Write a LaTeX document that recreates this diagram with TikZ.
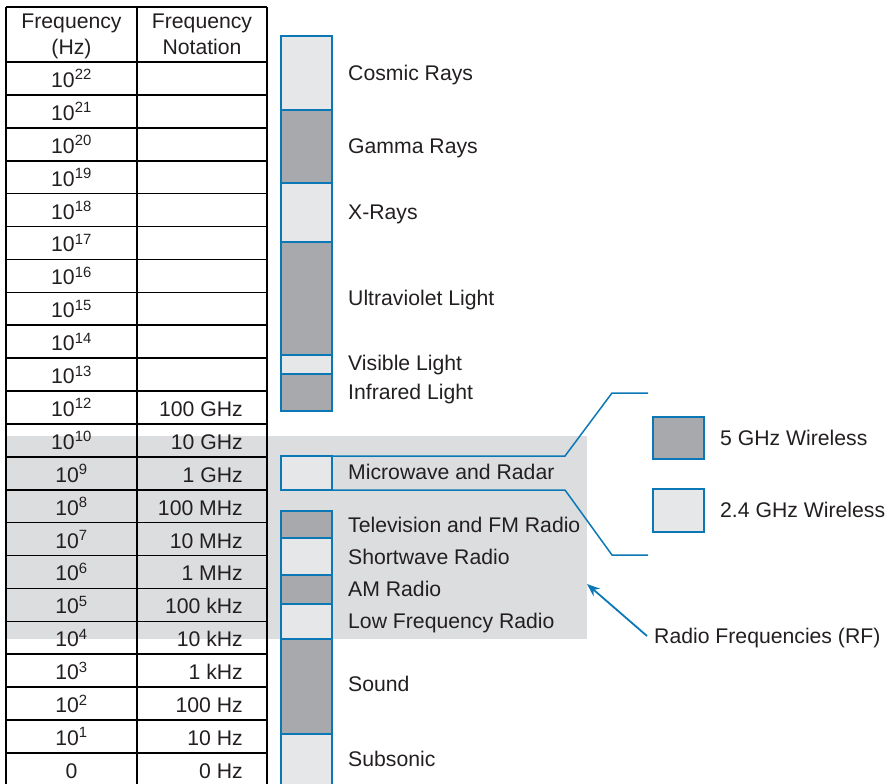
\documentclass[tikz,border=0pt]{standalone}
\usepackage{fontspec}
\setmainfont{Liberation Sans}
\usetikzlibrary{arrows.meta}
\definecolor{darkg}{HTML}{A7A9AC}
\definecolor{lightg}{HTML}{E6E7E8}
\definecolor{bandg}{HTML}{DCDDDF}
\definecolor{bl}{HTML}{0B78B5}
\definecolor{ink}{HTML}{231F20}
\begin{document}
\begin{tikzpicture}[x=1pt,y=-1pt,
  txt/.style={inner sep=0pt, font=\fontsize{21.2}{25}\selectfont, text=ink},
  lab/.style={txt, anchor=base west},
  num/.style={txt, anchor=base},
  note/.style={txt, anchor=base east},
  seg/.style={draw=bl, line width=2.2pt, minimum width=51pt, inner sep=0pt, outer sep=0pt, anchor=north west},
  tline/.style={draw=black, line width=1.6pt},
  blline/.style={draw=bl, line width=1.5pt}]
\useasboundingbox (0,0) rectangle (886,784);
% RF band
\fill[bandg] (6,436) rectangle (587,639);
\coordinate (bandE) at (587,584);
% table lines
\draw[tline] (6,7) -- (6,790);
\draw[tline] (137,7) -- (137,790);
\draw[tline] (267,7) -- (267,790);
\draw[tline] (6,7) -- (267,7);
\foreach \i in {0,...,21} {
  \draw[tline] (6,62+32.9*\i) -- (267,62+32.9*\i);
}
% header
\node[num] (h1a) at (71.5,28.3) {Frequency};
\node[num] (h1b) at (71.5,54.3) {(Hz)};
\node[num] (h2a) at (202,28.3) {Frequency};
\node[num] (h2b) at (202,54.3) {Notation};
% frequency column
\foreach \e [count=\k from 0] in {22,21,20,19,18,17,16,15,14,13,12,10,9,8,7,6,5,4,3,2,1} {
  \node[num] (f\k) at (71.5,62+32.9*\k+16.45+9) {10\textsuperscript{\e}};
}
\node[num] (f21) at (71.5,62+32.9*21+16.45+9) {0};
% notation column
\foreach \t [count=\k from 10] in {100 GHz,10 GHz,1 GHz,100 MHz,10 MHz,1 MHz,100 kHz,10 kHz,1 kHz,100 Hz,10 Hz,0 Hz} {
  \node[note] (n\k) at (243,62+32.9*\k+16.45+9) {\t};
}
% spectrum bar
\node[seg, fill=lightg, minimum height=74pt] (cosmic) at (281,36) {};
\node[seg, fill=darkg, minimum height=73pt] (gamma) at (281,110) {};
\node[seg, fill=lightg, minimum height=59pt] (xray) at (281,183) {};
\node[seg, fill=darkg, minimum height=113pt] (uv) at (281,242) {};
\node[seg, fill=lightg, minimum height=19pt] (vis) at (281,355) {};
\node[seg, fill=darkg, minimum height=37pt] (ir) at (281,374) {};
\node[seg, fill=lightg, minimum height=34pt] (mw) at (281,456) {};
\node[seg, fill=darkg, minimum height=27pt] (tv) at (281,511) {};
\node[seg, fill=lightg, minimum height=37pt] (sw) at (281,538) {};
\node[seg, fill=darkg, minimum height=29pt] (am) at (281,575) {};
\node[seg, fill=lightg, minimum height=35pt] (lf) at (281,604) {};
\node[seg, fill=darkg, minimum height=95pt] (sound) at (281,639) {};
\node[seg, fill=lightg, minimum height=60pt] (sub) at (281,734) {};
% labels
\node[lab] (lcosmic) at (348,80.5) {Cosmic Rays};
\node[lab] (lgamma) at (348,153) {Gamma Rays};
\node[lab] (lxray) at (348,219) {X-Rays};
\node[lab] (luv) at (348,305) {Ultraviolet Light};
\node[lab] (lvis) at (348,370.7) {Visible Light};
\node[lab] (lir) at (348,399) {Infrared Light};
\node[lab] (lmw) at (348,479.5) {Microwave and Radar};
\node[lab] (ltv) at (348,532) {Television and FM Radio};
\node[lab] (lsw) at (348,564) {Shortwave Radio};
\node[lab] (lam) at (348,596) {AM Radio};
\node[lab] (llf) at (348,628) {Low Frequency Radio};
\node[lab] (lsound) at (348,691.7) {Sound};
\node[lab] (lsub) at (348,766.5) {Subsonic};
% microwave zoom lines
\coordinate (t1) at (565,456);
\coordinate (t2) at (612,393);
\coordinate (t3) at (648,393);
\coordinate (b1) at (565,490);
\coordinate (b2) at (612,555);
\coordinate (b3) at (648,555);
\draw[blline] (mw.north east) -- (t1) -- (t2) -- (t3);
\draw[blline] (mw.south east) -- (b1) -- (b2) -- (b3);
% legend
\node[seg, fill=darkg, minimum width=51pt, minimum height=42pt] (w5) at (653,417) {};
\node[seg, fill=lightg, minimum width=51pt, minimum height=43pt] (w24) at (653,489) {};
\node[lab] (lw5) at (720,445) {5 GHz Wireless};
\node[lab] (lw24) at (720,517) {2.4 GHz Wireless};
% RF label and arrow
\node[lab] (rf) at (654,643) {Radio Frequencies (RF)};
\coordinate (rfs) at (647,636);
\draw[blline, line width=1.8pt, -{Stealth[length=13pt,width=10pt]}] (rfs) -- (bandE);
\end{tikzpicture}
\end{document}
